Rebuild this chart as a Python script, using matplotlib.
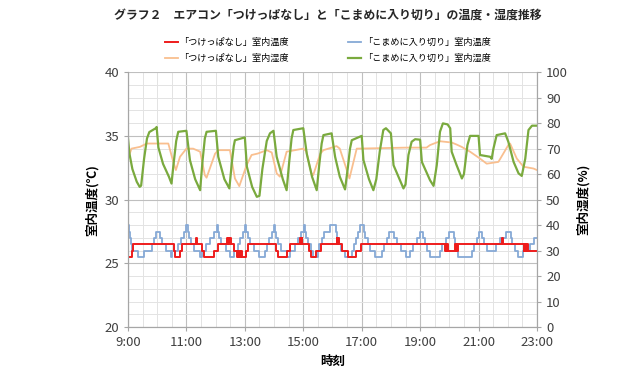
import matplotlib
matplotlib.use("Agg")
import matplotlib.pyplot as plt
from matplotlib.ticker import MultipleLocator, FixedLocator

plt.rcParams['font.family'] = ['Noto Sans CJK JP', 'DejaVu Sans']

# hours after 9:00, value
# 「つけっぱなし」室内温度 (step data, deg C)
red_steps = [(0.00, 25.5), (0.12, 26), (0.18, 26.5), (1.57, 26), (1.62, 25.5), (1.78, 26), (1.86, 26.5),
             (2.33, 27), (2.37, 26.5), (2.52, 26), (2.60, 25.5), (2.95, 26), (3.07, 26.5),
             (3.38, 27), (3.41, 26.5), (3.44, 27), (3.47, 26.5), (3.50, 27), (3.54, 26.5), (3.64, 26),
             (3.72, 25.5), (3.75, 26), (3.78, 25.5), (3.81, 26), (3.84, 25.5), (3.87, 26), (3.90, 25.5),
             (4.03, 26), (4.10, 26.5), (5.05, 26), (5.15, 25.5), (5.43, 26), (5.55, 26.5),
             (5.88, 27), (5.91, 26.5), (5.94, 27), (5.97, 26.5), (6.20, 26), (6.28, 25.5), (6.45, 26), (6.60, 26.5),
             (7.14, 27), (7.16, 26.5), (7.18, 27), (7.21, 26.5), (7.33, 26), (7.52, 25.5), (7.80, 26), (7.97, 26.5),
             (10.86, 26), (10.88, 26.5), (10.90, 26), (10.92, 26.5), (10.94, 26),
             (11.20, 26.5), (11.22, 26), (11.24, 26.5), (11.26, 26), (11.28, 26.5),
             (12.80, 27), (12.84, 26.5), (13.55, 26), (13.57, 26.5), (13.59, 26), (13.61, 26.5),
             (13.63, 26), (13.65, 26.5), (13.68, 26), (14.00, 26)]

# 「こまめに入り切り」室内温度 (step data, deg C)
blue_steps = [(0.00, 28), (0.03, 27.5), (0.06, 27), (0.10, 26.5), (0.15, 26), (0.33, 25.5), (0.55, 26),
              (0.82, 26.5), (0.88, 27), (0.97, 27.5),
              (1.10, 27), (1.17, 26.5), (1.30, 26), (1.47, 25.5), (1.50, 26), (1.70, 26.5), (1.83, 27),
              (1.93, 27.5), (2.00, 28),
              (2.06, 27.5), (2.10, 27), (2.16, 26.5), (2.25, 26), (2.47, 25.5), (2.52, 26), (2.68, 26.5),
              (2.82, 27), (2.93, 27.5), (3.03, 28),
              (3.08, 27.5), (3.13, 27), (3.20, 26.5), (3.35, 26), (3.50, 25.5), (3.62, 26), (3.75, 26.5),
              (3.85, 27), (3.95, 27.5), (4.00, 28),
              (4.05, 27.5), (4.10, 27), (4.17, 26.5), (4.30, 26), (4.50, 25.5), (4.70, 26), (4.75, 26.5),
              (4.83, 27), (4.92, 27.5), (4.99, 28),
              (5.04, 27.5), (5.08, 27), (5.15, 26.5), (5.25, 26), (5.45, 25.5), (5.55, 26), (5.70, 26.5),
              (5.82, 27), (5.93, 27.5), (6.02, 28),
              (6.06, 27.5), (6.10, 27), (6.15, 26.5), (6.25, 26), (6.35, 25.5), (6.50, 26), (6.55, 26.5),
              (6.63, 27), (6.70, 27.5), (6.90, 28),
              (7.12, 27.5), (7.17, 27), (7.22, 26.5), (7.30, 26), (7.43, 25.5), (7.67, 26), (7.72, 26.5),
              (7.80, 27), (7.88, 27.5), (7.95, 28),
              (8.07, 27.5), (8.12, 27), (8.20, 26.5), (8.30, 26), (8.46, 25.5), (8.68, 26), (8.75, 26.5),
              (8.85, 27), (8.93, 27.5),
              (9.10, 27), (9.20, 26.5), (9.35, 26), (9.50, 25.5), (9.66, 26), (9.75, 26.5), (9.90, 27), (10.00, 27.5),
              (10.10, 27), (10.18, 26.5), (10.25, 26), (10.34, 25.5), (10.68, 26), (10.75, 26.5), (10.88, 27), (10.98, 27.5),
              (11.15, 27), (11.20, 26.5), (11.25, 26), (11.30, 25.5), (11.78, 26), (11.85, 26.5), (11.95, 27), (12.02, 27.5),
              (12.12, 27), (12.20, 26.5), (12.30, 26), (12.60, 26.5), (12.75, 27), (12.95, 27.5),
              (13.10, 27), (13.15, 26.5), (13.25, 26), (13.36, 25.5), (13.53, 26), (13.75, 26.5), (13.90, 27), (14.00, 27)]

# 「つけっぱなし」室内湿度 (%)
orange_pts = [(0.00, 66), (0.12, 70), (0.41, 70.7), (0.64, 72), (1.38, 72), (1.55, 64.8), (1.64, 61.6),
              (1.78, 66.8), (2.00, 70), (2.23, 70), (2.47, 68.8), (2.63, 59.6), (2.69, 58.6), (2.98, 68),
              (3.09, 69.4), (3.49, 69.4), (3.66, 58.3), (3.81, 55.3), (4.06, 63.5), (4.23, 67.5),
              (4.45, 68.1), (4.75, 69.4), (4.92, 68.5), (5.09, 60.3), (5.20, 59), (5.43, 68.8), (6.00, 70),
              (6.10, 69), (6.28, 60.3), (6.34, 59.6), (6.58, 68), (6.69, 69.4), (7.14, 71), (7.25, 70),
              (7.49, 61.6), (7.58, 58.3), (7.83, 70), (9.54, 70.4), (10.22, 70.4), (10.34, 71.4),
              (10.68, 72.9), (11.08, 72.4), (11.25, 71.6), (11.42, 70.7), (11.71, 68.8), (12.05, 66.1),
              (12.28, 64.1), (12.68, 64.8), (13.02, 71.4), (13.08, 72), (13.31, 66.1), (13.54, 62.9),
              (13.88, 62.2), (14.00, 61.6)]

# 「こまめに入り切り」室内湿度 (%)
green_pts = [(0.00, 74), (0.05, 68), (0.15, 62), (0.30, 57), (0.40, 55), (0.45, 55.5), (0.55, 66),
             (0.65, 74), (0.73, 76.5), (0.95, 78), (0.98, 78.5), (1.04, 70.5), (1.20, 64), (1.40, 59),
             (1.49, 56.3), (1.55, 63), (1.65, 73), (1.72, 76.6), (2.00, 77), (2.12, 65.5), (2.30, 58),
             (2.47, 53.7), (2.55, 65), (2.63, 74), (2.69, 76.6), (3.01, 77), (3.09, 66.8), (3.30, 58),
             (3.47, 54.4), (3.55, 64), (3.62, 71), (3.66, 73.3), (4.00, 74.4), (4.07, 62.9), (4.25, 55),
             (4.41, 51.1), (4.50, 51.5), (4.60, 62), (4.75, 73), (4.86, 76), (4.98, 77), (5.09, 66.8),
             (5.30, 58), (5.43, 53.7), (5.52, 65), (5.60, 74), (5.66, 77.3), (6.00, 78), (6.12, 68),
             (6.30, 59), (6.46, 53.7), (6.55, 64), (6.63, 72), (6.69, 75.3), (6.97, 76), (7.09, 66.8),
             (7.25, 59), (7.43, 54), (7.52, 62), (7.60, 70), (7.66, 73.3), (8.00, 75), (8.06, 65.5),
             (8.25, 58), (8.40, 53.7), (8.50, 58), (8.62, 69), (8.74, 77.3), (8.83, 78), (9.00, 76),
             (9.09, 63.5), (9.43, 54.4), (9.50, 56), (9.60, 67.5), (9.71, 72.7), (9.83, 73.7), (10.00, 73.5),
             (10.06, 64.8), (10.34, 57.6), (10.46, 55.4), (10.57, 63.5), (10.68, 76.6), (10.78, 79.9),
             (10.94, 79.5), (11.03, 78), (11.08, 68.8), (11.25, 63.5), (11.43, 58.3), (11.50, 60),
             (11.62, 71.4), (11.71, 75), (12.00, 75), (12.05, 67.5), (12.40, 66.8), (12.45, 66),
             (12.51, 70), (12.62, 75.3), (12.91, 76), (13.02, 72.7), (13.20, 64.8), (13.37, 60.3),
             (13.48, 59.3), (13.60, 66.1), (13.71, 77.3), (13.83, 79), (14.00, 79)]

hour_ticks = [9, 11, 13, 15, 17, 19, 21, 23]
hour_labels = ['9:00', '11:00', '13:00', '15:00', '17:00', '19:00', '21:00', '23:00']

c_red = '#EE1C1C'
c_blue = '#86A9D6'
c_orange = '#F9BF8F'
c_green = '#7AAA3E'

fig = plt.figure(figsize=(6.4, 3.68), dpi=100)
ax = fig.add_axes([0.2, 0.111, 0.639, 0.693])
ax2 = ax.twinx()


def split(pairs):
    return [9 + p[0] for p in pairs], [p[1] for p in pairs]


bt, bv = split(blue_steps)
rt, rv = split(red_steps)
ot, ov = split(orange_pts)
gt, gv = split(green_pts)

l_blue, = ax.plot(bt, bv, drawstyle='steps-post', color=c_blue, lw=1.3)
l_red, = ax.plot(rt, rv, drawstyle='steps-post', color=c_red, lw=1.4)
l_orange, = ax2.plot(ot, ov, color=c_orange, lw=1.3)
l_green, = ax2.plot(gt, gv, color=c_green, lw=1.6)

ax.set_xlim(9, 23)
ax.set_ylim(20, 40)
ax2.set_ylim(0, 100)

ax.xaxis.set_major_locator(FixedLocator(hour_ticks))
ax.set_xticklabels(hour_labels)
ax.xaxis.set_minor_locator(MultipleLocator(0.5))
ax.yaxis.set_major_locator(MultipleLocator(5))
ax.yaxis.set_minor_locator(MultipleLocator(1))
ax2.yaxis.set_major_locator(MultipleLocator(10))

ax.grid(which='major', color='#BFBFBF', lw=0.8)
ax.grid(which='minor', color='#E3E3E3', lw=0.7)
ax.set_axisbelow(True)

for a in (ax, ax2):
    for s in a.spines.values():
        s.set_color('#A6A6A6')
    a.spines['top'].set_visible(False)
    a.tick_params(which='major', colors='#A6A6A6', labelcolor='#404040', labelsize=9.5, length=3)
    a.tick_params(which='minor', length=0)

ax.set_ylabel('室内温度(℃)', fontsize=9, fontweight='bold', labelpad=4)
ax2.set_ylabel('室内湿度(%)', fontsize=9, fontweight='bold', labelpad=6)
ax.set_xlabel('時刻', fontsize=9, fontweight='bold', labelpad=4)

fig.text(0.512, 0.958, 'グラフ２　エアコン「つけっぱなし」と「こまめに入り切り」の温度・湿度推移',
         ha='center', va='center', fontsize=8.6, fontweight='bold', color='#262626')

fig.legend([l_red, l_orange, l_blue, l_green],
           ['「つけっぱなし」室内温度', '「つけっぱなし」室内湿度',
            '「こまめに入り切り」室内温度', '「こまめに入り切り」室内湿度'],
           ncol=2, loc='center', bbox_to_anchor=(0.512, 0.863), frameon=False,
           fontsize=6.6, handlelength=1.4, handletextpad=0.15, columnspacing=6.5,
           labelspacing=0.75, borderpad=0)

fig.savefig('out.png', dpi=100)
